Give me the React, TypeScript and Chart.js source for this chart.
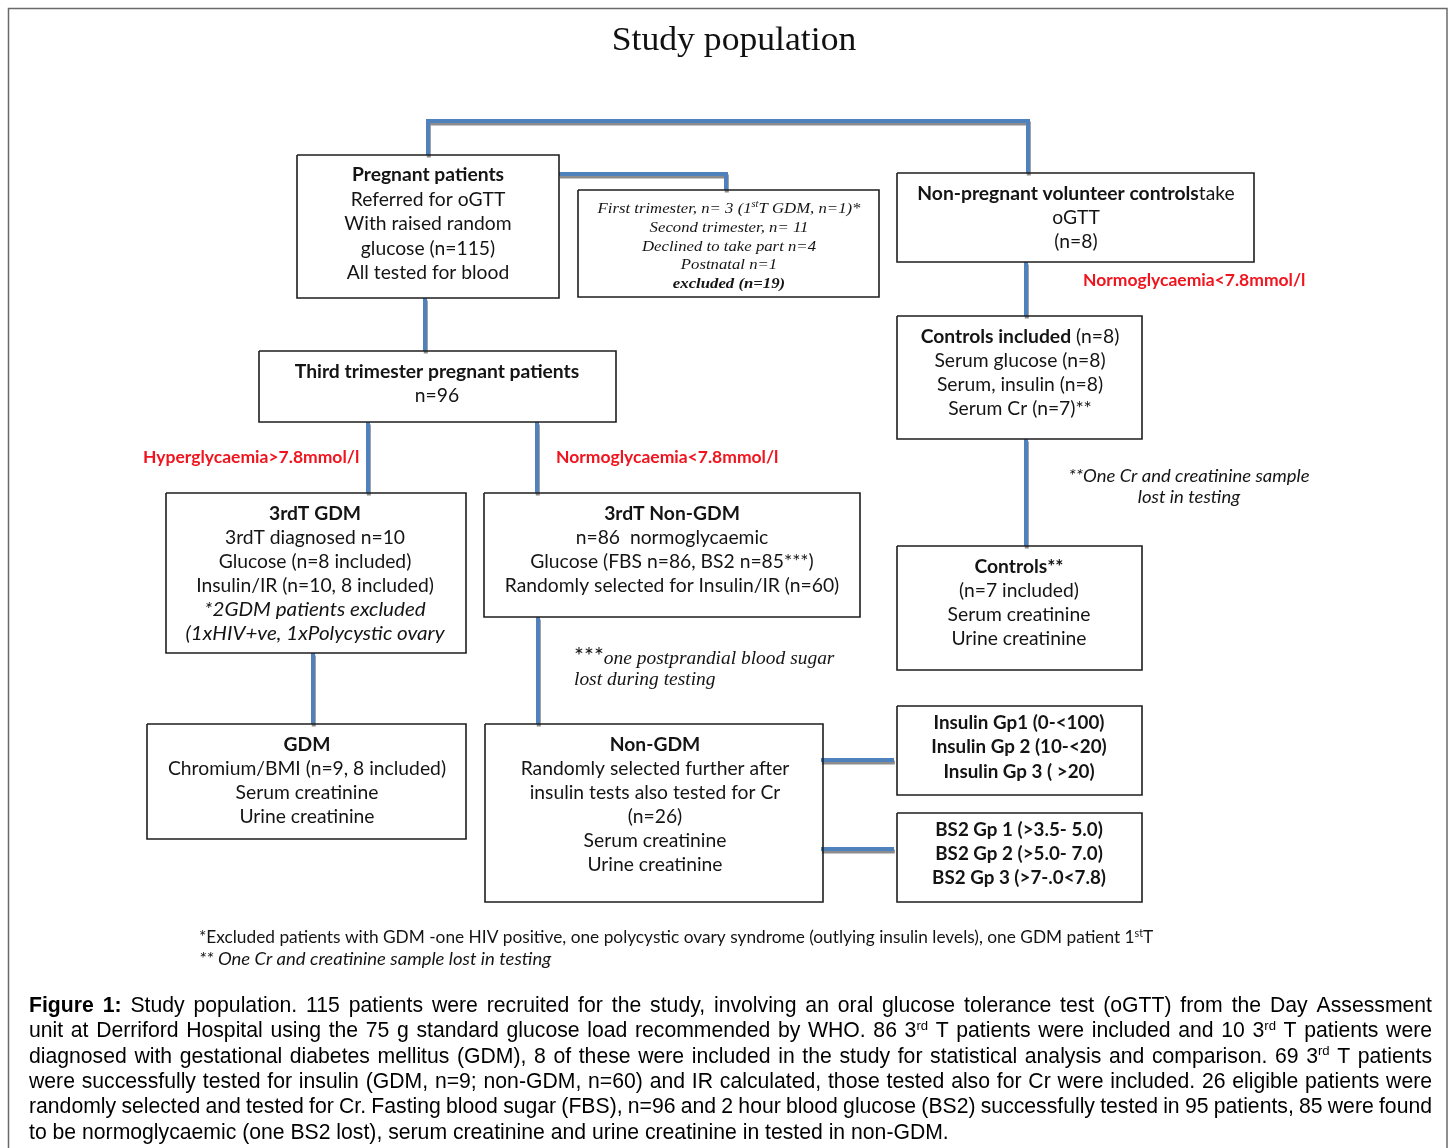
import React, { useEffect, useRef } from 'react';
import { Chart, registerables } from 'chart.js';
Chart.register(...registerables);

const W = 1453;
const H = 1148;

// ---------- text content ----------
const TITLE = 'Study population';
const PREGNANT = ['<b>Pregnant patients</b>', 'Referred for oGTT', 'With raised random', 'glucose (n=115)', 'All tested for blood'];
const EXCLUDED = ['First trimester, n= 3 (1<sup>st</sup>T GDM, n=1)*', 'Second trimester, n= 11', 'Declined to take part n=4', 'Postnatal n=1', '<b>excluded (n=19)</b>'];
const NONPREG = ['<b>Non-pregnant volunteer controls</b>take', 'oGTT', '(n=8)'];
const CONTROLS_INCLUDED = ['<b>Controls included</b> (n=8)', 'Serum glucose (n=8)', 'Serum, insulin (n=8)', 'Serum Cr (n=7)**'];
const CONTROLS = ['<b>Controls**</b>', '(n=7 included)', 'Serum creatinine', 'Urine creatinine'];
const THIRD = ['<b>Third trimester pregnant patients</b>', 'n=96'];
const GDM3 = ['<b>3rdT GDM</b>', '3rdT diagnosed n=10', 'Glucose (n=8 included)', 'Insulin/IR (n=10, 8 included)', '<i>*2GDM patients excluded</i>', '<i>(1xHIV+ve, 1xPolycystic ovary</i>'];
const NONGDM3 = ['<b>3rdT Non-GDM</b>', 'n=86  normoglycaemic', 'Glucose (FBS n=86, BS2 n=85***)', 'Randomly selected for Insulin/IR (n=60)'];
const GDM = ['<b>GDM</b>', 'Chromium/BMI (n=9, 8 included)', 'Serum creatinine', 'Urine creatinine'];
const NONGDM = ['<b>Non-GDM</b>', 'Randomly selected further after', 'insulin tests also tested for Cr', '(n=26)', 'Serum creatinine', 'Urine creatinine'];
const INSULIN_GROUPS = ['Insulin Gp1 (0-<100)', 'Insulin Gp 2 (10-<20)', 'Insulin Gp 3 ( >20)'];
const BS2_GROUPS = ['BS2 Gp 1 (>3.5- 5.0)', 'BS2 Gp 2 (>5.0- 7.0)', 'BS2 Gp 3 (>7-.0<7.8)'];
const HYPER_LABEL = ['Hyperglycaemia>7.8mmol/l'];
const NORMO_LABEL = ['Normoglycaemia<7.8mmol/l'];
const NOTE_BS2 = ['<alt>***</alt>one postprandial blood sugar', 'lost during testing'];
const NOTE_CR = ['**One Cr and creatinine sample', 'lost in testing'];
const FOOTNOTES = [
  '*Excluded patients with GDM -one HIV positive, one polycystic ovary syndrome (outlying insulin levels), one GDM patient 1<sup>st</sup>T',
  '<i>** One Cr and creatinine sample lost in testing</i>',
];
const CAPTION = [
  '<b>Figure 1:</b> Study population. 115 patients were recruited for the study, involving an oral glucose tolerance test (oGTT) from the Day Assessment',
  'unit at Derriford Hospital using the 75 g standard glucose load recommended by WHO. 86 3<sup>rd</sup> T patients were included and 10 3<sup>rd</sup> T patients were',
  'diagnosed with gestational diabetes mellitus (GDM), 8 of these were included in the study for statistical analysis and comparison. 69 3<sup>rd</sup> T patients',
  'were successfully tested for insulin (GDM, n=9; non-GDM, n=60) and IR calculated, those tested also for Cr were included. 26 eligible patients were',
  'randomly selected and tested for Cr. Fasting blood sugar (FBS), n=96 and 2 hour blood glucose (BS2) successfully tested in 95 patients, 85 were found',
  'to be normoglycaemic (one BS2 lost), serum creatinine and urine creatinine in tested in non-GDM.',
];

// ---------- layout (diagram coordinates) ----------
type Box = [number, number, number, number];
const BOXES: Box[] = [
  [297, 155, 559, 298],
  [578, 190, 879, 297],
  [897, 173, 1254, 262],
  [897, 316, 1142, 439],
  [897, 546, 1142, 670],
  [259, 351, 616, 422],
  [166, 493, 466, 653],
  [484, 493, 860, 617],
  [147, 724, 466, 839],
  [485, 724, 823, 902],
  [897, 706, 1142, 795],
  [897, 813, 1142, 902],
];
const CONNECTORS: [number, number][][] = [
  [[428, 155], [428, 121], [1028, 121], [1028, 173]],
  [[559, 174], [726, 174], [726, 190]],
  [[425, 298], [425, 351]],
  [[368, 422], [368, 493]],
  [[537, 422], [537, 493]],
  [[313, 653], [313, 724]],
  [[538, 617], [538, 724]],
  [[1026, 262], [1026, 316]],
  [[1026, 439], [1026, 546]],
  [[821, 760], [894, 760]],
  [[821, 849], [894, 849]],
];
const FRAME: [number, number][] = [[8.5, 1170], [8.5, 8.5], [1447, 8.5], [1447, 1170]];

type Fam = 'sans' | 'serif' | 'arial';
type Block = {
  lines: string[]; x: number; y: number; lh: number; fam: Fam; size: number;
  bold?: boolean; italic?: boolean; color?: string; align: 'center' | 'left' | 'justify'; right?: number;
};
const RED = '#f0141e';
const BS = 19.3;
const BLOCKS: Block[] = [
  { lines: [TITLE], x: 734, y: 50, lh: 0, fam: 'serif', size: 33, align: 'center', color: '#111' },
  { lines: PREGNANT, x: 428, y: 181, lh: 24.5, fam: 'sans', size: BS, align: 'center' },
  { lines: EXCLUDED, x: 729, y: 213, lh: 18.8, fam: 'serif', size: 15.5, italic: true, align: 'center' },
  { lines: NONPREG, x: 1076, y: 200, lh: 24, fam: 'sans', size: BS, align: 'center' },
  { lines: CONTROLS_INCLUDED, x: 1020, y: 342.5, lh: 24, fam: 'sans', size: BS, align: 'center' },
  { lines: CONTROLS, x: 1019, y: 572.5, lh: 24, fam: 'sans', size: BS, align: 'center' },
  { lines: THIRD, x: 437, y: 378, lh: 24, fam: 'sans', size: BS, align: 'center' },
  { lines: GDM3, x: 315, y: 520, lh: 24, fam: 'sans', size: BS, align: 'center' },
  { lines: NONGDM3, x: 672, y: 520, lh: 24, fam: 'sans', size: BS, align: 'center' },
  { lines: GDM, x: 307, y: 751, lh: 24, fam: 'sans', size: BS, align: 'center' },
  { lines: NONGDM, x: 655, y: 751, lh: 24, fam: 'sans', size: BS, align: 'center' },
  { lines: INSULIN_GROUPS, x: 1019, y: 729, lh: 24.3, fam: 'sans', size: 18.8, bold: true, align: 'center' },
  { lines: BS2_GROUPS, x: 1019, y: 836, lh: 24, fam: 'sans', size: 18.8, bold: true, align: 'center' },
  { lines: HYPER_LABEL, x: 143, y: 463, lh: 0, fam: 'sans', size: 17.5, bold: true, color: RED, align: 'left' },
  { lines: NORMO_LABEL, x: 556, y: 463, lh: 0, fam: 'sans', size: 17.5, bold: true, color: RED, align: 'left' },
  { lines: NORMO_LABEL, x: 1083, y: 286, lh: 0, fam: 'sans', size: 17.5, bold: true, color: RED, align: 'left' },
  { lines: NOTE_CR, x: 1189, y: 482, lh: 21, fam: 'sans', size: 17.3, italic: true, align: 'center' },
  { lines: NOTE_BS2, x: 574, y: 664, lh: 21, fam: 'serif', size: 18, italic: true, align: 'left' },
  { lines: FOOTNOTES, x: 199, y: 943, lh: 22, fam: 'sans', size: 17.3, align: 'left' },
  { lines: CAPTION, x: 29, right: 1432, y: 1012, lh: 25.3, fam: 'arial', size: 21.2, align: 'justify', color: '#000' },
];

const FAMILY: Record<Fam, { name: string; sx: number; isx: number }> = {
  sans: { name: 'Lato', sx: 1.0, isx: 1.07 },
  serif: { name: '"Liberation Serif"', sx: 1.08, isx: 1 },
  arial: { name: '"Liberation Sans"', sx: 1, isx: 1 },
};

type Run = { t: string; b: boolean; i: boolean; sup: boolean; alt: boolean };
function parse(s: string, b0: boolean, i0: boolean): Run[] {
  const parts = s.split(/(<\/?(?:b|i|sup|alt)>)/);
  let b = b0, i = i0, sup = false, alt = false;
  const out: Run[] = [];
  for (const p of parts) {
    if (!p) continue;
    const m = p.match(/^<(\/?)(b|i|sup|alt)>$/);
    if (m) {
      const on = m[1] === '';
      if (m[2] === 'b') b = on; else if (m[2] === 'i') i = on; else if (m[2] === 'sup') sup = on; else alt = on;
      continue;
    }
    out.push({ t: p, b, i, sup, alt });
  }
  return out;
}

function runFont(r: Run, blk: Block) {
  let fam: Fam = blk.fam;
  let italic = r.i;
  let size = blk.size;
  if (r.alt) { fam = blk.fam === 'serif' ? 'sans' : 'serif'; italic = false; size = blk.size * 1.3; }
  if (r.sup) size = size * 0.62;
  const f = FAMILY[fam];
  return { font: `${italic ? 'italic ' : ''}${r.b ? 'bold ' : ''}${size}px ${f.name}`, sx: f.sx * (italic ? f.isx : 1), size };
}

function drawBlocks(chart: any) {
  const ctx: CanvasRenderingContext2D = chart.ctx;
  const xs = chart.scales.x, ys = chart.scales.y;
  ctx.save();
  ctx.textBaseline = 'alphabetic';
  ctx.textAlign = 'left';
  for (const blk of BLOCKS) {
    ctx.fillStyle = blk.color || '#141414';
    blk.lines.forEach((line, li) => {
      const runs = parse(line, !!blk.bold, !!blk.italic);
      const baseY = ys.getPixelForValue(blk.y + li * blk.lh);
      const widths = runs.map((r) => { const f = runFont(r, blk); ctx.font = f.font; return ctx.measureText(r.t).width * f.sx; });
      const total = widths.reduce((a, b) => a + b, 0);
      let x = xs.getPixelForValue(blk.x);
      let gap = 0;
      const justify = blk.align === 'justify' && li < blk.lines.length - 1;
      if (blk.align === 'center') x -= total / 2;
      if (justify) {
        const spaces = runs.reduce((a, r) => a + (r.t.match(/ /g) || []).length, 0);
        const target = xs.getPixelForValue(blk.right!) - x;
        gap = spaces ? (target - total) / spaces : 0;
      }
      runs.forEach((r, ri) => {
        const f = runFont(r, blk);
        ctx.font = f.font;
        const y = r.sup ? baseY - blk.size * 0.36 : baseY;
        if (!justify) {
          ctx.save(); ctx.translate(x, y); ctx.scale(f.sx, 1); ctx.fillText(r.t, 0, 0); ctx.restore();
          x += widths[ri];
        } else {
          const words = r.t.split(' ');
          const sw = ctx.measureText(' ').width * f.sx;
          words.forEach((w, wi) => {
            if (w) { ctx.save(); ctx.translate(x, y); ctx.scale(f.sx, 1); ctx.fillText(w, 0, 0); ctx.restore(); }
            x += ctx.measureText(w).width * f.sx;
            if (wi < words.length - 1) x += sw + gap;
          });
        }
      });
    });
  }
  ctx.restore();
}

const textPlugin = { id: 'flowText', afterDatasetsDraw: (chart: any) => drawBlocks(chart) };

function pts(p: [number, number][], dx = 0, dy = 0) {
  return p.map(([x, y]) => ({ x: x + dx, y: y + dy }));
}

export default function App() {
  const ref = useRef<HTMLCanvasElement | null>(null);
  useEffect(() => {
    if (!ref.current) return;
    const base = { showLine: true, pointRadius: 0, pointHoverRadius: 0, fill: false, tension: 0 };
    const datasets: any[] = [];
    datasets.push({ ...base, data: pts(FRAME), borderColor: '#6a6a6a', borderWidth: 1.5, order: 5 });
    CONNECTORS.forEach((c) => {
      datasets.push({ ...base, data: pts(c, 0.8, 2.4), borderColor: '#8c8c8c', borderWidth: 4, order: 4 });
    });
    CONNECTORS.forEach((c) => {
      datasets.push({ ...base, data: pts(c), borderColor: '#4f81bd', borderWidth: 4, order: 3 });
    });
    BOXES.forEach(([x0, y0, x1, y1]) => {
      datasets.push({ ...base, data: pts([[x0, y0], [x1, y0], [x1, y1], [x0, y1], [x0, y0]]), borderColor: '#1e1e1e', borderWidth: 1.6, order: 1 });
    });
    const chart = new Chart(ref.current, {
      type: 'scatter',
      data: { datasets },
      options: {
        responsive: false,
        maintainAspectRatio: false,
        animation: false,
        events: [],
        layout: { padding: 0 },
        plugins: { legend: { display: false }, tooltip: { enabled: false }, title: { display: false } },
        scales: {
          x: { type: 'linear', min: 0, max: W, display: false },
          y: { type: 'linear', min: 0, max: H, reverse: true, display: false },
        },
      },
      plugins: [textPlugin],
    } as any);
    let alive = true;
    if ((document as any).fonts && (document as any).fonts.ready) {
      (document as any).fonts.ready.then(() => { if (alive) chart.draw(); });
    }
    return () => { alive = false; chart.destroy(); };
  }, []);
  return (
    <div style={{ position: 'absolute', left: 0, top: 0, width: W, height: H, background: '#fff' }}>
      <canvas ref={ref} width={W} height={H} style={{ display: 'block', width: W, height: H }} />
    </div>
  );
}
